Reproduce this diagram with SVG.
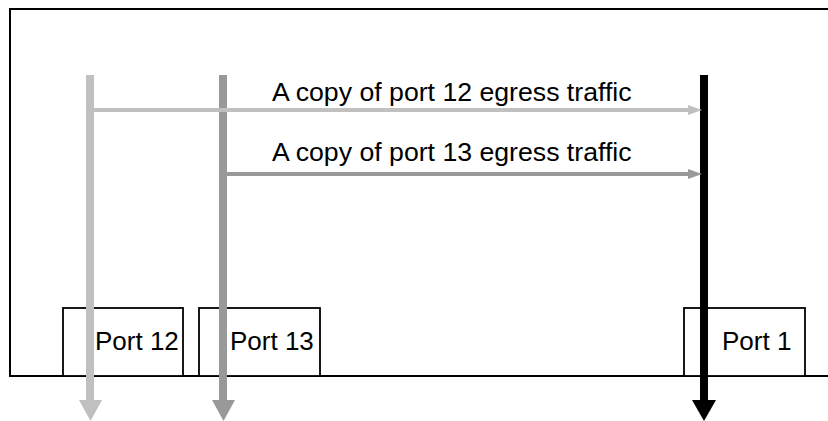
<svg xmlns="http://www.w3.org/2000/svg" width="828" height="421" viewBox="0 0 828 421">
<style>
.box{fill:#fff;stroke:#000;stroke-width:2}
.port{fill:#fff;stroke:#000;stroke-width:1.8}
.lbl{font-family:"Liberation Sans",Arial,sans-serif;font-size:26px;fill:#000}
.cap{font-size:26.67px}
.light{stroke:#c0c0c0;fill:none}
.mid{stroke:#999999;fill:none}
.dark{stroke:#000;fill:none}
</style>
<rect width="828" height="421" fill="#fff"/>
<g id="switch">
<path class="box" d="M830,9 H10 V376 H830"/>
</g>
<g id="port12">
<rect class="port" x="63" y="308" width="120" height="68"/>
<text class="lbl" x="95" y="350">Port 12</text>
</g>
<g id="port13">
<rect class="port" x="199" y="308" width="121" height="68"/>
<text class="lbl" x="230" y="350">Port 13</text>
</g>
<g id="port1">
<rect class="port" x="684" y="308" width="121" height="68"/>
<text class="lbl" x="722" y="350">Port 1</text>
</g>
<g id="connectors">
<line class="light" x1="90" y1="75" x2="90" y2="401" stroke-width="8"/>
<polygon points="79,400 102,400 90.5,421" fill="#c0c0c0"/>
<line class="mid" x1="223" y1="75" x2="223" y2="401" stroke-width="8"/>
<polygon points="212,400 235,400 223.5,421" fill="#999999"/>
<line class="dark" x1="704" y1="75" x2="704" y2="401" stroke-width="8"/>
<polygon points="692,400 716,400 704,421" fill="#000"/>
<line class="light" x1="94" y1="110" x2="689" y2="110" stroke-width="4"/>
<polygon points="688,105 702,110 688,115" fill="#c0c0c0"/>
<line class="mid" x1="227" y1="174" x2="689" y2="174" stroke-width="4"/>
<polygon points="688,169 702,174 688,179" fill="#999999"/>
</g>
<g id="labels">
<text class="lbl cap" x="272" y="101">A copy of port 12 egress traffic</text>
<text class="lbl cap" x="272" y="161">A copy of port 13 egress traffic</text>
</g>
</svg>
